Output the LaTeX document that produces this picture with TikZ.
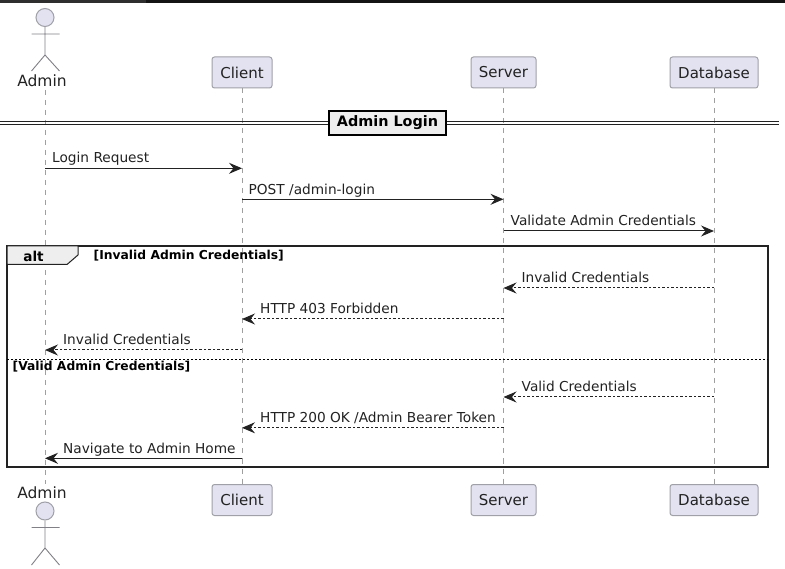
\documentclass[tikz,border=0pt]{standalone}
\usepackage{fontspec}
\setmainfont{DejaVu Sans}
\usetikzlibrary{arrows.meta}
\definecolor{partfill}{HTML}{E2E2F0}
\definecolor{partline}{HTML}{A0A0A8}
\definecolor{ink}{HTML}{222222}
\definecolor{framefill}{HTML}{EEEEEE}
\tikzset{
  part/.style={draw=partline,fill=partfill,rounded corners=2.5pt,line width=1pt,minimum height=31pt,inner xsep=0pt,inner ysep=0pt,font=\fontsize{15}{17}\selectfont,text=ink,anchor=center},
  actorlabel/.style={font=\fontsize{15.5}{17}\selectfont,text=ink,inner sep=0pt},
  head/.style={draw=partline,fill=partfill,line width=1pt,circle,minimum size=18pt,inner sep=0pt},
  limb/.style={draw=partline!80!black,line width=.9pt},
  lifeline/.style={draw=gray!75,line width=.9pt,dash pattern=on 5pt off 5pt},
  msg/.style={draw=ink,line width=1pt,-{Stealth[length=13pt,width=11pt,inset=4.5pt]}},
  reply/.style={msg,dash pattern=on 2.5pt off 2pt},
  msglabel/.style={font=\fontsize{13.7}{15}\selectfont,text=ink,inner sep=0pt,anchor=base west},
  framelabel/.style={font=\fontsize{12.3}{13}\selectfont\bfseries,text=black,inner sep=0pt,anchor=base west},
}
\begin{document}
\begin{tikzpicture}[x=1pt,y=-1pt]
\useasboundingbox (0,0) rectangle (785,569);
\fill[white] (0,0) rectangle (785,569);
\fill[black!92] (146,0) rectangle (785,3);
\fill[black!82] (0,0) rectangle (146,3);

% anchors of the lifelines
\coordinate (admT) at (45,90);
\coordinate (admB) at (45,484);
\node[part,minimum width=60pt] (cliT) at (242,72.5) {Client};
\node[part,minimum width=65pt] (srvT) at (503.5,72.5) {Server};
\node[part,minimum width=88pt] (dbT)  at (714,72.5) {Database};
\node[part,minimum width=60pt] (cliB) at (242,500) {Client};
\node[part,minimum width=65pt] (srvB) at (503.5,500) {Server};
\node[part,minimum width=88pt] (dbB)  at (714,500) {Database};

\draw[lifeline] (admT) -- (admB);
\draw[lifeline] (cliT.south) -- (cliB.north);
\draw[lifeline] (srvT.south) -- (srvB.north);
\draw[lifeline] (dbT.south) -- (dbB.north);

% top actor
\node[head] (admHead) at (45,17.5) {};
\draw[limb] (admHead.south) -- (45,55) (31.5,34) -- (59.5,34) (45,55) -- (31.5,71) (45,55) -- (59.5,71);
\node[actorlabel] (admLabelT) at (42,81) {Admin};
% bottom actor
\node[actorlabel] (admLabelB) at (42,493) {Admin};
\node[head] (admHeadB) at (45,511) {};
\draw[limb] (admHeadB.south) -- (45,548) (31.5,527.5) -- (59.5,527.5) (45,548) -- (31.5,565) (45,548) -- (59.5,565);

% divider
\coordinate (divL) at (0,123);
\coordinate (divR) at (779,123);
\draw[draw=ink,line width=1pt] (0,121.8) -- (779,121.8) (0,124.8) -- (779,124.8);
\node[draw=black,line width=1.5pt,fill=framefill,minimum width=117pt,minimum height=24pt,inner sep=0pt,font=\fontsize{14.4}{16}\selectfont\bfseries,text=black] (divider) at (387.5,123) {Admin Login};

% alt frame
\draw[draw=ink,line width=1.6pt] (7,246) rectangle (768,467);
\draw[draw=ink,line width=1pt,fill=framefill] (7,246) -- (78,246) -- (78,255) -- (67,264.5) -- (7,264.5) -- cycle;
\node[font=\fontsize{13.6}{15}\selectfont\bfseries,text=black,inner sep=0pt] (altTag) at (33.5,256) {alt};
\node[framelabel] (g1) at (93.5,259.5) {[Invalid Admin Credentials]};
\draw[draw=black,line width=.8pt,dash pattern=on 2pt off 2pt] (7,359) -- (768,359);
\node[framelabel] (g2) at (12.5,370.5) {[Valid Admin Credentials]};

% messages
\draw[msg] (admT |- 0,168.3) -- (cliT |- 0,168.3);
\node[msglabel] (m1) at (52,163) {Login Request};
\draw[msg] (cliT |- 0,199.3) -- (srvT |- 0,199.3);
\node[msglabel] (m2) at (248.5,194.5) {POST /admin-login};
\draw[msg] (srvT |- 0,231) -- (dbT |- 0,231);
\node[msglabel] (m3) at (510.5,226) {Validate Admin Credentials};
\draw[reply] (dbT |- 0,288) -- (srvT |- 0,288);
\node[msglabel] (m4) at (521.5,282.5) {Invalid Credentials};
\draw[reply] (srvT |- 0,319) -- (cliT |- 0,319);
\node[msglabel] (m5) at (260,314) {HTTP 403 Forbidden};
\draw[reply] (cliT |- 0,350) -- (admT |- 0,350);
\node[msglabel] (m6) at (63,345) {Invalid Credentials};
\draw[reply] (dbT |- 0,397) -- (srvT |- 0,397);
\node[msglabel] (m7) at (521.5,391.5) {Valid Credentials};
\draw[reply] (srvT |- 0,427.8) -- (cliT |- 0,427.8);
\node[msglabel] (m8) at (260,422.5) {HTTP 200 OK /Admin Bearer Token};
\draw[msg] (cliT |- 0,458.3) -- (admT |- 0,458.3);
\node[msglabel] (m9) at (63,453.5) {Navigate to Admin Home};
\end{tikzpicture}
\end{document}
